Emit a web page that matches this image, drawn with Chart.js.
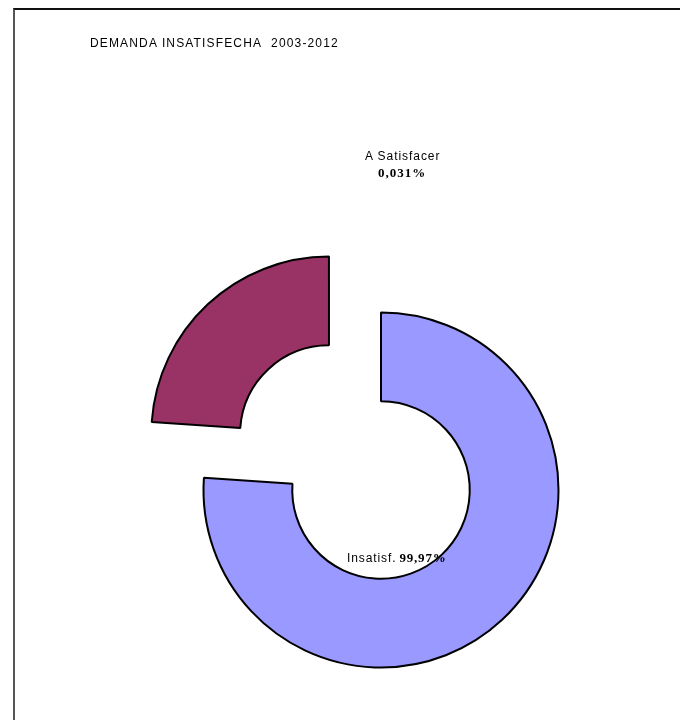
<!DOCTYPE html>
<html>
<head>
<meta charset="utf-8">
<script src="https://cdn.jsdelivr.net/npm/chart.js@4.4.1/dist/chart.umd.min.js"></script>
<style>
  html, body { margin: 0; padding: 0; background: #fff; }
  #wrap { position: relative; width: 680px; height: 720px; overflow: hidden; }
  #frame { position: absolute; left: 13px; top: 8px; width: 700px; height: 760px;
           border-top: 2px solid #111; border-left: 2px solid #555; box-sizing: border-box; }
  canvas { position: absolute; left: 0; top: 0; }
  .txt { position: absolute; font-family: "Liberation Sans", Arial, sans-serif; color: #000; white-space: nowrap;
         font-size: 12px; line-height: 14px; }
  .title { left: 90px; top: 36px; letter-spacing: 1.15px; }
  .num { font-family: "Liberation Serif", "Times New Roman", serif; font-weight: bold; font-size: 13px; }
</style>
</head>
<body>
<div id="wrap">
  <div id="frame"></div>
  <canvas id="c" width="680" height="720"></canvas>
  <div class="txt title">DEMANDA INSATISFECHA&nbsp; 2003-2012</div>
  <div class="txt" style="left:365px; top:149px; letter-spacing:0.95px;">A Satisfacer</div>
  <div class="txt num" style="left:378px; top:166px; letter-spacing:1px;">0,031%</div>
  <div class="txt" style="left:347px; top:551px;"><span style="letter-spacing:0.9px;">Insatisf.</span><span class="num" style="margin-left:3px; letter-spacing:0.8px;">99,97%</span></div>
</div>
<script>
const categories = ["Insatisf.", "A Satisfacer"];
const labelTexts = ["99,97%", "0,031%"];
// share of the ring as drawn in the picture
const values = [76.1, 23.9];
const colors = ["#9999FF", "#993366"];
const explode = [0, 305];

new Chart(document.getElementById('c'), {
  type: 'doughnut',
  data: {
    labels: categories,
    datasets: [{
      data: values,
      backgroundColor: colors,
      borderColor: '#000',
      borderWidth: 2,
      offset: explode,
      hoverOffset: 0
    }]
  },
  options: {
    responsive: false,
    animation: false,
    events: [],
    radius: 177.5,
    cutout: '50%',
    rotation: 0,
    layout: { padding: { top: 270, bottom: 10, left: 92, right: 10 } },
    plugins: { legend: { display: false }, tooltip: { enabled: false }, title: { display: false } }
  }
});
</script>
</body>
</html>
